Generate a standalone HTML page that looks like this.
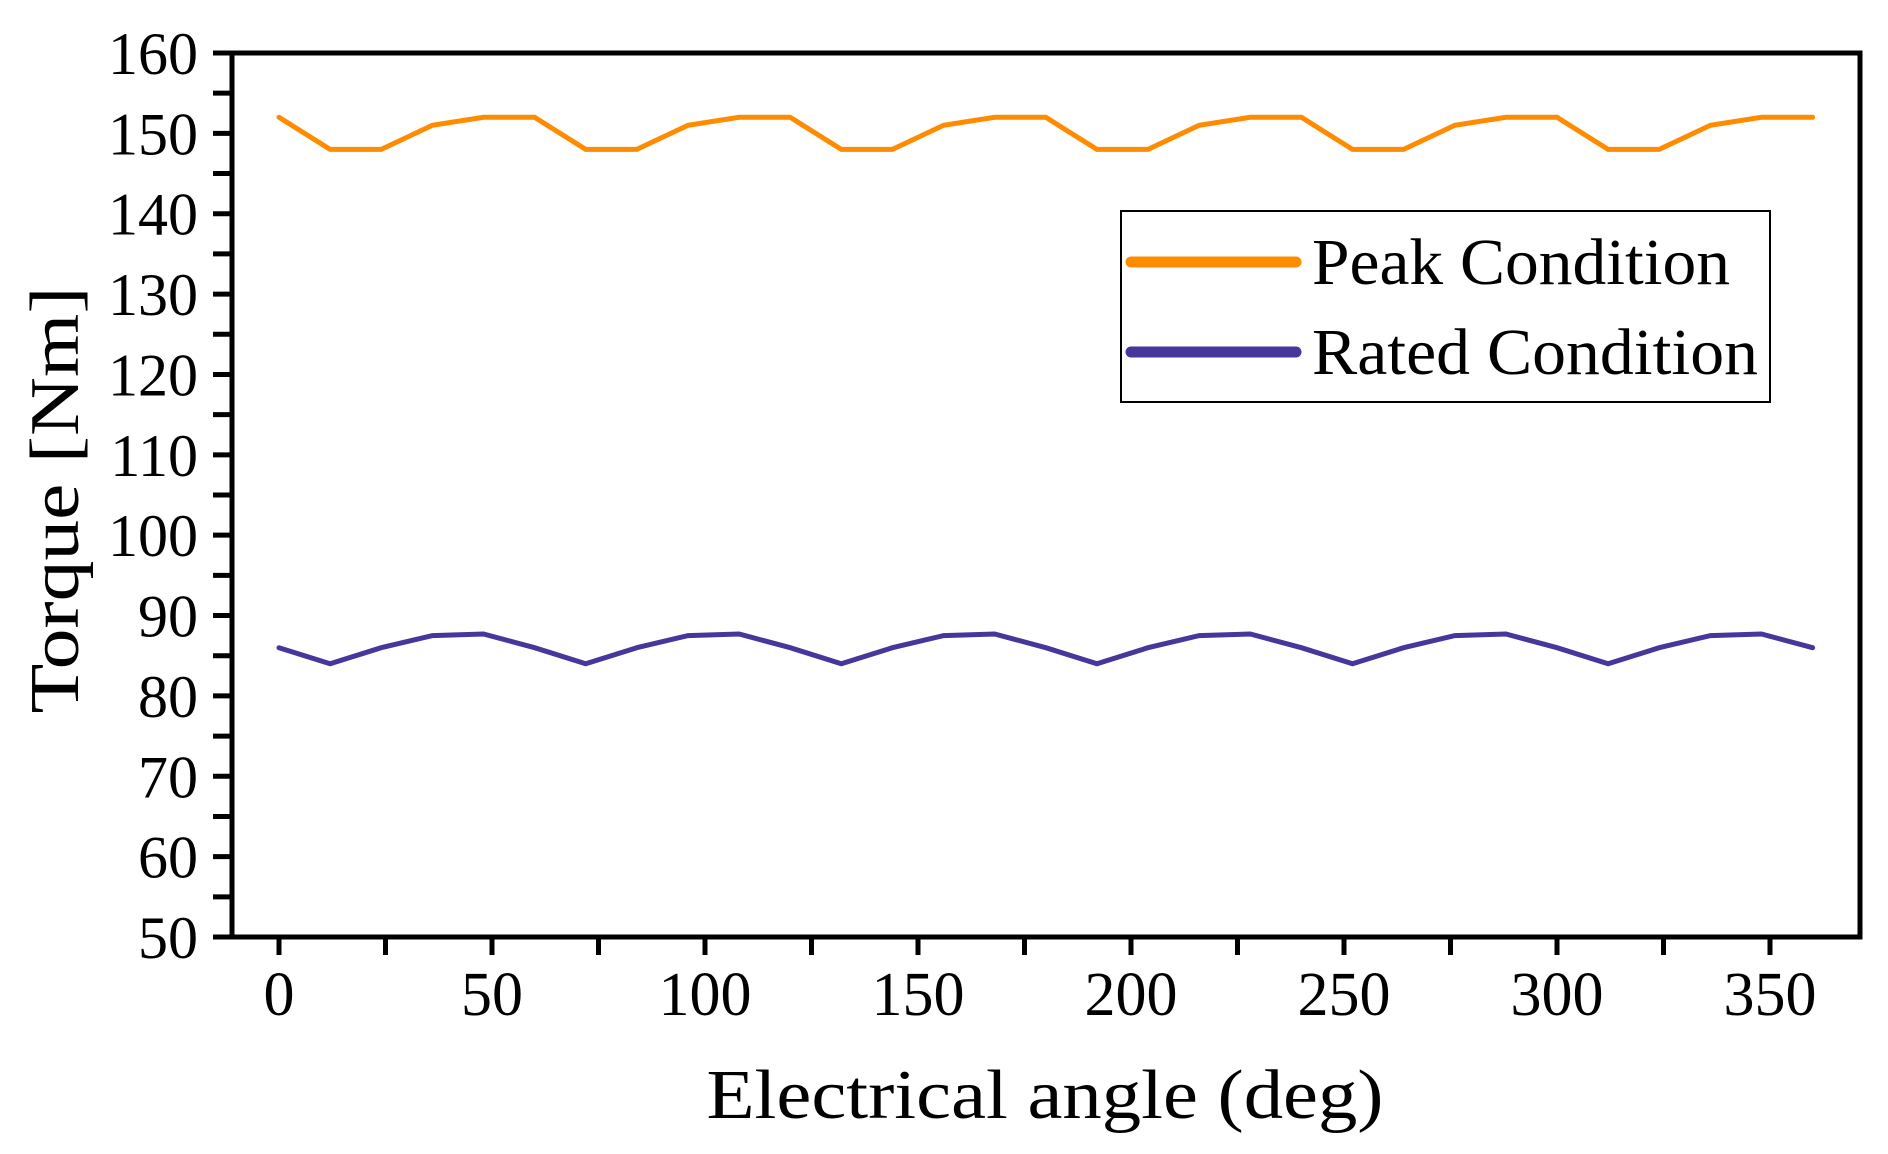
<!DOCTYPE html>
<html><head><meta charset="utf-8"><style>
html,body{margin:0;padding:0;background:#fff;}
svg{display:block;}
text{font-family:"Liberation Serif",serif;fill:#000;}
</style></head><body>
<svg id="chart" width="1888" height="1154" viewBox="0 0 1888 1154">
<rect x="0" y="0" width="1888" height="1154" fill="#fff"/>
<g id="grid"></g>
<g id="series"></g>
<rect x="232" y="53" width="1628" height="884" fill="none" stroke="#000" stroke-width="5"/>
<g id="axes"></g>
<text x="1045" y="1118" font-size="70" text-anchor="middle" textLength="677" lengthAdjust="spacingAndGlyphs">Electrical angle (deg)</text>
<text transform="translate(78,500) rotate(-90)" font-size="70" text-anchor="middle" textLength="427" lengthAdjust="spacingAndGlyphs">Torque [Nm]</text>
<g>
<rect x="1121" y="211" width="649" height="191" fill="#fff" stroke="#000" stroke-width="2"/>
<line x1="1131" y1="262" x2="1296" y2="262" stroke="#FF8C00" stroke-width="11" stroke-linecap="round"/>
<text x="1312" y="284" font-size="66" textLength="418" lengthAdjust="spacingAndGlyphs">Peak Condition</text>
<line x1="1131" y1="352" x2="1296" y2="352" stroke="#47369B" stroke-width="11" stroke-linecap="round"/>
<text x="1312" y="374" font-size="66" textLength="446" lengthAdjust="spacingAndGlyphs">Rated Condition</text>
</g>
</svg>
<script>
const angles = [0,12,24,36,48,60,72,84,96,108,120,132,144,156,168,180,192,204,216,228,240,252,264,276,288,300,312,324,336,348,360];
const peakTorque = [152,148,148,151,152,152,148,148,151,152,152,148,148,151,152,152,148,148,151,152,152,148,148,151,152,152,148,148,151,152,152];
const ratedTorque = [86,84,86,87.5,87.7,86,84,86,87.5,87.7,86,84,86,87.5,87.7,86,84,86,87.5,87.7,86,84,86,87.5,87.7,86,84,86,87.5,87.7,86];
const xTickLabels = [0,50,100,150,200,250,300,350];
const yTickLabels = [50,60,70,80,90,100,110,120,130,140,150,160];

const NS = "http://www.w3.org/2000/svg";
const x0 = 279, xPerDeg = 213/50;
const yBase = 937, yTop = 53, yMin = 50, yMax = 160;
function xs(v){ return x0 + v * xPerDeg; }
function ys(v){ return yBase - (v - yMin) * (yBase - yTop) / (yMax - yMin); }
function mk(tag, attrs){ const e = document.createElementNS(NS, tag); for (const k in attrs) e.setAttribute(k, attrs[k]); return e; }

const axes = document.getElementById('axes');
for (let v = yMin; v <= yMax; v += 5) {
  const t = mk('line', {x1: 213, x2: 232, y1: ys(v), y2: ys(v), stroke: '#000', 'stroke-width': 5});
  
  
  axes.appendChild(t);
}
yTickLabels.forEach(v => {
  const t = mk('text', {x: 198, y: ys(v) + 21, 'font-size': 60, 'text-anchor': 'end'});
  t.textContent = v;
  
  
  axes.appendChild(t);
});
for (let v = 0; v <= 350; v += 25) {
  const t = mk('line', {x1: xs(v), x2: xs(v), y1: 937, y2: 955, stroke: '#000', 'stroke-width': 5});
  
  
  axes.appendChild(t);
}
xTickLabels.forEach(v => {
  const t = mk('text', {x: xs(v), y: 1015, 'font-size': 62, 'text-anchor': 'middle'});
  t.textContent = v;
  
  
  axes.appendChild(t);
});
const series = document.getElementById('series');
function addLine(vals, color, name){
  const pts = angles.map((a,i) => xs(a).toFixed(1) + ',' + ys(vals[i]).toFixed(1)).join(' ');
  const p = mk('polyline', {points: pts, fill: 'none', stroke: color, 'stroke-width': 5, 'stroke-linejoin': 'miter', 'stroke-linecap': 'round'});
  
  
  series.appendChild(p);
}
addLine(peakTorque, '#FF8C00', 'peak-condition-line');
addLine(ratedTorque, '#47369B', 'rated-condition-line');
</script>
</body></html>
